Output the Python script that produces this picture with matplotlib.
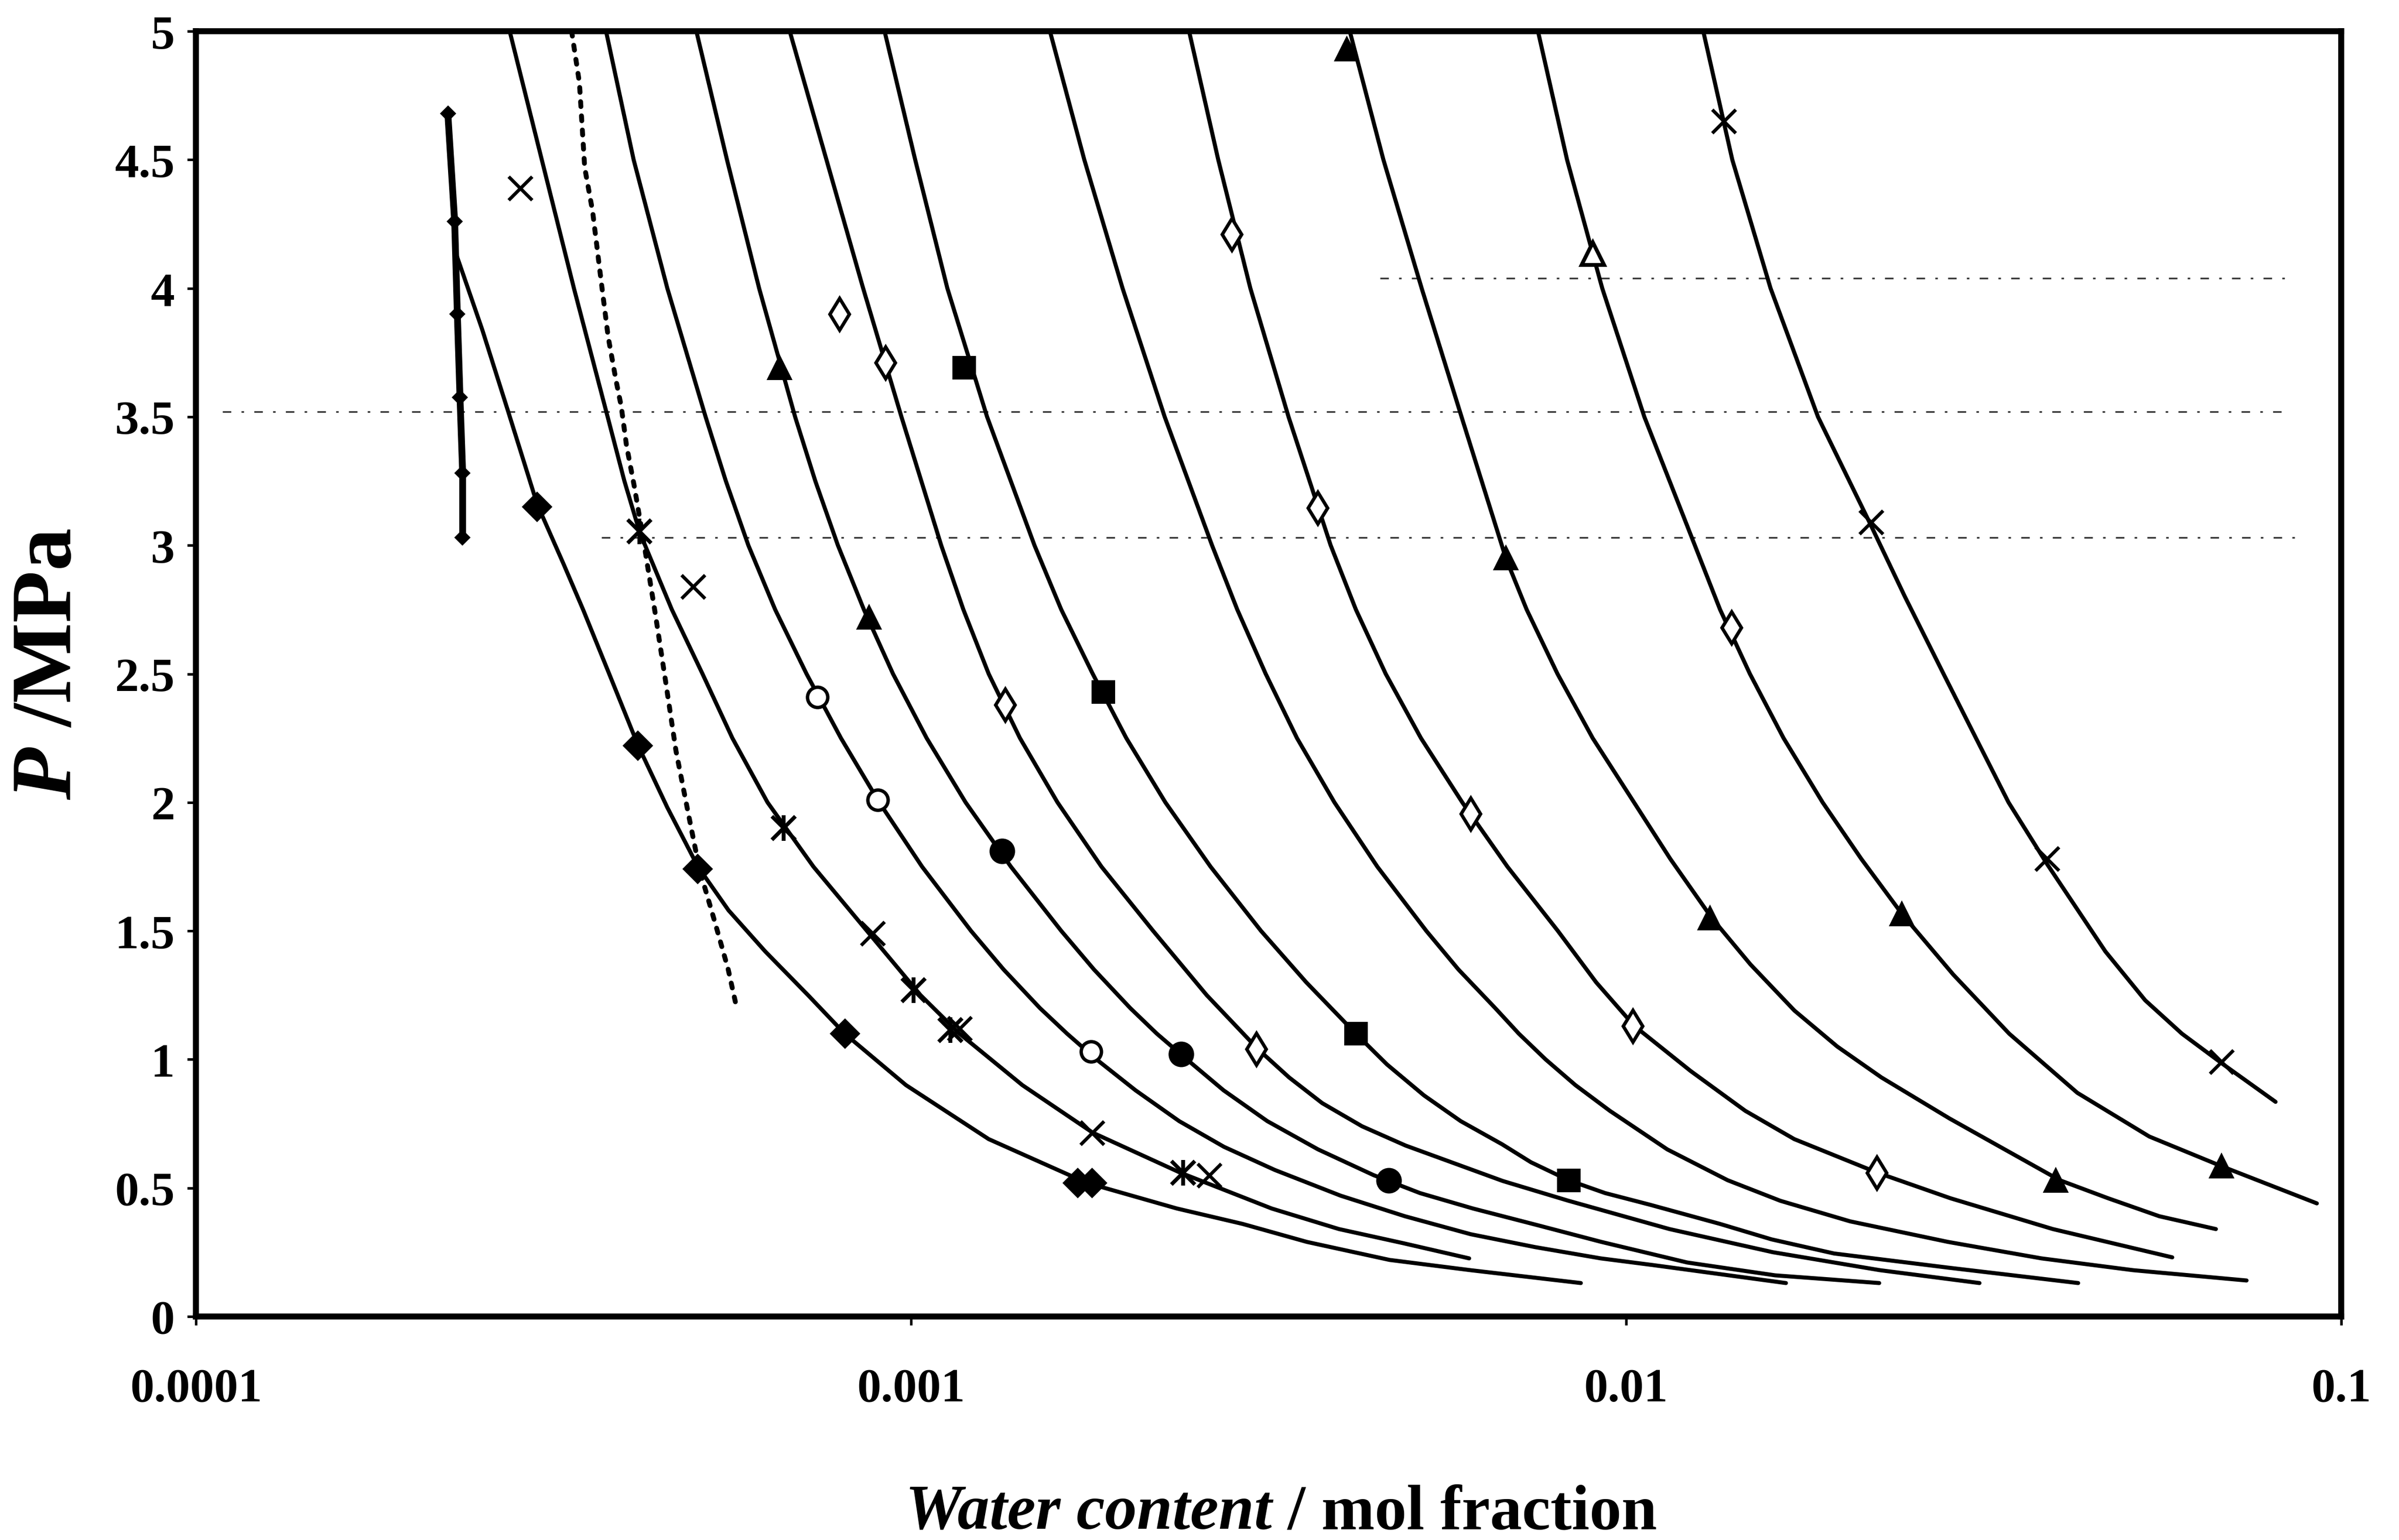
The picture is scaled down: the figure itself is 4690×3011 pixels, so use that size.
import matplotlib
matplotlib.use("Agg")
import matplotlib.pyplot as plt
from matplotlib.ticker import NullLocator

plt.rcParams['font.family'] = ['Liberation Serif', 'DejaVu Serif']

# ---------------- isotherm curves: water content (mol fraction) vs P (MPa) ----------------
c1_x = [2.30e-4, 2.513e-4, 2.733e-4, 3.000e-4, 3.263e-4, 3.478e-4, 3.783e-4, 4.154e-4, 4.562e-4, 5.034e-4,
        5.556e-4, 6.253e-4, 7.177e-4, 8.078e-4, 9.838e-4, 1.284e-3, 1.760e-3, 2.354e-3, 2.909e-3, 3.578e-3,
        4.668e-3, 6.062e-3, 8.643e-3]
c1_p = [4.15, 3.84, 3.52, 3.16, 2.93, 2.75, 2.50, 2.22, 1.98, 1.75,
        1.58, 1.42, 1.25, 1.10, 0.90, 0.69, 0.52, 0.42, 0.36, 0.29,
        0.22, 0.18, 0.13]

c2_x = [2.746e-4, 3.045e-4, 3.377e-4, 3.764e-4, 3.973e-4, 4.174e-4, 4.629e-4, 5.109e-4, 5.625e-4, 6.299e-4,
        7.302e-4, 8.676e-4, 1.031e-3, 1.169e-3, 1.431e-3, 1.795e-3, 2.377e-3, 3.194e-3, 3.967e-3, 4.880e-3,
        6.032e-3]
c2_p = [5.0, 4.5, 4.0, 3.5, 3.25, 3.05, 2.75, 2.5, 2.25, 2.0,
        1.75, 1.5, 1.25, 1.10, 0.90, 0.715, 0.56, 0.42, 0.34, 0.285,
        0.226]

c3_x = [3.745e-4, 4.093e-4, 4.562e-4, 5.160e-4, 5.508e-4, 5.922e-4, 6.456e-4, 7.142e-4, 7.979e-4, 9.026e-4,
        1.036e-3, 1.213e-3, 1.347e-3, 1.514e-3, 1.653e-3, 1.817e-3, 2.060e-3, 2.371e-3, 2.739e-3, 3.226e-3,
        3.987e-3, 4.904e-3, 6.062e-3, 7.455e-3, 9.214e-3, 1.090e-2, 1.673e-2]
c3_p = [5.0, 4.5, 4.0, 3.5, 3.25, 3.0, 2.75, 2.5, 2.25, 2.0,
        1.75, 1.5, 1.35, 1.2, 1.1, 1.0, 0.88, 0.76, 0.66, 0.57,
        0.47, 0.39, 0.32, 0.27, 0.226, 0.20, 0.13]

c4_x = [5.009e-4, 5.528e-4, 6.131e-4, 6.884e-4, 7.347e-4, 7.901e-4, 8.591e-4, 9.435e-4, 1.0515e-3, 1.192e-3,
        1.379e-3, 1.622e-3, 1.802e-3, 2.025e-3, 2.207e-3, 2.4305e-3, 2.735e-3, 3.149e-3, 3.708e-3, 4.433e-3,
        5.149e-3, 6.107e-3, 7.474e-3, 9.236e-3, 1.2172e-2, 1.616e-2, 2.259e-2]
c4_p = [5.0, 4.5, 4.0, 3.5, 3.25, 3.0, 2.75, 2.5, 2.25, 2.0,
        1.75, 1.5, 1.35, 1.2, 1.1, 1.0, 0.88, 0.76, 0.65, 0.55,
        0.48, 0.42, 0.357, 0.29, 0.21, 0.16, 0.13]

c5_x = [6.766e-4, 7.615e-4, 8.570e-4, 9.695e-4, 1.102e-3, 1.1835e-3, 1.284e-3, 1.420e-3, 1.6025e-3, 1.846e-3,
        2.1805e-3, 2.591e-3, 3.056e-3, 3.378e-3, 3.758e-3, 4.272e-3, 4.915e-3, 6.723e-3, 8.309e-3, 1.150e-2,
        1.604e-2, 2.265e-2, 3.120e-2]
c5_p = [5.0, 4.5, 4.0, 3.5, 3.0, 2.75, 2.5, 2.25, 2.0, 1.75,
        1.5, 1.25, 1.04, 0.93, 0.83, 0.74, 0.665, 0.527, 0.45, 0.34,
        0.25, 0.18, 0.13]

c6_x = [9.183e-4, 1.0134e-3, 1.124e-3, 1.2774e-3, 1.488e-3, 1.622e-3, 1.795e-3, 2.000e-3, 2.268e-3, 2.623e-3,
        3.086e-3, 3.570e-3, 4.189e-3, 4.632e-3, 5.216e-3, 5.870e-3, 6.706e-3, 7.360e-3, 8.309e-3, 9.347e-3,
        1.0788e-2, 1.3533e-2, 1.597e-2, 1.9536e-2, 2.820e-2, 4.287e-2]
c6_p = [5.0, 4.5, 4.0, 3.5, 3.0, 2.75, 2.5, 2.25, 2.0, 1.75,
        1.5, 1.3, 1.1, 0.98, 0.86, 0.76, 0.67, 0.60, 0.53, 0.48,
        0.435, 0.36, 0.30, 0.245, 0.19, 0.13]

c7_x = [1.564e-3, 1.747e-3, 1.976e-3, 2.263e-3, 2.636e-3, 2.859e-3, 3.133e-3, 3.465e-3, 3.909e-3, 4.488e-3,
        5.255e-3, 5.827e-3, 6.559e-3, 7.080e-3, 7.717e-3, 8.494e-3, 9.490e-3, 1.1417e-2, 1.3869e-2, 1.6432e-2,
        2.0574e-2, 2.820e-2, 3.809e-2, 5.119e-2, 7.373e-2]
c7_p = [5.0, 4.5, 4.0, 3.5, 3.0, 2.75, 2.5, 2.25, 2.0, 1.75,
        1.5, 1.35, 1.2, 1.1, 1.0, 0.9, 0.8, 0.65, 0.53, 0.45,
        0.37, 0.29, 0.226, 0.18, 0.14]

c8_x = [2.448e-3, 2.689e-3, 2.982e-3, 3.372e-3, 3.862e-3, 4.189e-3, 4.611e-3, 5.165e-3, 5.900e-3, 6.823e-3,
        8.027e-3, 9.080e-3, 1.027e-2, 1.2308e-2, 1.4678e-2, 1.7185e-2, 2.2427e-2, 2.841e-2, 3.952e-2, 5.804e-2]
c8_p = [5.0, 4.5, 4.0, 3.5, 3.0, 2.75, 2.5, 2.25, 2.0, 1.75,
        1.5, 1.3, 1.13, 0.955, 0.80, 0.69, 0.56, 0.46, 0.34, 0.23]

c9_x = [4.107e-3, 4.577e-3, 5.177e-3, 5.886e-3, 6.789e-3, 7.260e-3, 8.017e-3, 8.979e-3, 1.0257e-2, 1.153e-2,
        1.3178e-2, 1.4919e-2, 1.7195e-2, 1.974e-2, 2.275e-2, 2.834e-2, 3.334e-2, 4.041e-2, 4.720e-2, 5.566e-2,
        6.680e-2]
c9_p = [5.0, 4.5, 4.0, 3.5, 2.95, 2.75, 2.5, 2.25, 2.0, 1.78,
        1.55, 1.37, 1.19, 1.05, 0.93, 0.77, 0.66, 0.53, 0.46, 0.39,
        0.34]

c10_x = [7.529e-3, 8.268e-3, 9.260e-3, 1.0604e-2, 1.2477e-2, 1.3533e-2, 1.4897e-2, 1.6603e-2, 1.8827e-2,
         2.1326e-2, 2.4325e-2, 2.8677e-2, 3.434e-2, 4.276e-2, 5.391e-2, 6.796e-2, 9.246e-2]
c10_p = [5.0, 4.5, 4.0, 3.5, 3.0, 2.75, 2.5, 2.25, 2.0,
         1.78, 1.565, 1.33, 1.1, 0.87, 0.70, 0.585, 0.44]

c11_x = [1.282e-2, 1.4076e-2, 1.5922e-2, 1.8548e-2, 2.189e-2, 2.4542e-2, 2.779e-2, 3.085e-2, 3.426e-2,
         3.879e-2, 4.261e-2, 4.680e-2, 5.320e-2, 5.989e-2, 6.846e-2, 8.095e-2]
c11_p = [5.0, 4.5, 4.0, 3.5, 3.09, 2.8, 2.5, 2.25, 2.0,
         1.76, 1.59, 1.42, 1.23, 1.10, 0.98, 0.835]

# dotted boundary curve
dot_x = [3.352e-4, 3.437e-4, 3.496e-4, 3.586e-4, 3.678e-4, 3.771e-4, 3.868e-4, 3.933e-4, 3.999e-4, 4.101e-4,
         4.207e-4, 4.385e-4, 4.537e-4, 4.691e-4, 4.894e-4, 5.059e-4, 5.322e-4, 5.550e-4, 5.694e-4]
dot_p = [5.0, 4.80, 4.47, 4.30, 4.05, 3.81, 3.64, 3.54, 3.39, 3.23,
         3.05, 2.74, 2.47, 2.20, 1.94, 1.74, 1.53, 1.35, 1.21]

# near-vertical series with small diamonds
vline_x = [2.25e-4, 2.30e-4, 2.32e-4, 2.34e-4, 2.36e-4, 2.36e-4]
vline_p = [4.68, 4.26, 3.90, 3.575, 3.28, 3.03]

# faint horizontal reference lines
ref_p = [4.04, 3.52, 3.03]
ref_x0 = [4.53e-3, 1.09e-4, 3.69e-4]
ref_x1 = [8.38e-2, 8.38e-2, 8.89e-2]

# ---------------- experimental points ----------------
cross_x = [2.842e-4, 4.960e-4, 8.83e-4, 1.169e-3, 1.79e-3, 2.610e-3, 1.369e-2, 2.20e-2, 3.88e-2, 6.80e-2]
cross_p = [4.39, 2.84, 1.49, 1.12, 0.715, 0.55, 4.65, 3.09, 1.78, 0.99]

star_x = [4.17e-4, 6.63e-4, 1.008e-3, 1.135e-3, 2.400e-3]
star_p = [3.055, 1.90, 1.27, 1.115, 0.56]

fdiam_x = [3.00e-4, 4.15e-4, 5.03e-4, 8.08e-4, 1.71e-3, 1.79e-3]
fdiam_p = [3.15, 2.22, 1.74, 1.10, 0.52, 0.52]

ocirc_x = [7.40e-4, 8.98e-4, 1.786e-3]
ocirc_p = [2.41, 2.01, 1.03]

odiam_x = [7.944e-4, 9.204e-4, 1.354e-3, 3.04e-3, 2.810e-3, 3.703e-3, 6.062e-3, 1.022e-2, 2.243e-2, 1.405e-2]
odiam_p = [3.90, 3.71, 2.38, 1.04, 4.21, 3.145, 1.955, 1.13, 0.56, 2.68]

ftri_x = [6.55e-4, 8.73e-4, 4.067e-3, 6.789e-3, 1.31e-2, 3.99e-2, 2.43e-2, 6.80e-2]
ftri_p = [3.69, 2.72, 4.93, 2.95, 1.55, 0.53, 1.565, 0.585]

otri_x = [8.991e-3]
otri_p = [4.135]

fcirc_x = [1.34e-3, 2.386e-3, 4.657e-3]
fcirc_p = [1.81, 1.02, 0.53]

fsq_x = [1.186e-3, 1.858e-3, 4.189e-3, 8.309e-3]
fsq_p = [3.69, 2.43, 1.10, 0.53]

x_ticks = [1e-4, 1e-3, 1e-2, 1e-1]
x_tick_labels = ["0.0001", "0.001", "0.01", "0.1"]
y_ticks = [0, 0.5, 1, 1.5, 2, 2.5, 3, 3.5, 4, 4.5, 5]
y_tick_labels = ["0", "0.5", "1", "1.5", "2", "2.5", "3", "3.5", "4", "4.5", "5"]

# ---------------- figure ----------------
fig = plt.figure(figsize=(4690 / 300, 3012 / 300), dpi=300)
ax = fig.add_axes([0.0817, 0.1451, 0.8942, 0.8343])
ax.set_xscale('log')

curves = [(c1_x, c1_p), (c2_x, c2_p), (c3_x, c3_p), (c4_x, c4_p), (c5_x, c5_p), (c6_x, c6_p),
          (c7_x, c7_p), (c8_x, c8_p), (c9_x, c9_p), (c10_x, c10_p), (c11_x, c11_p)]
for cx, cp in curves:
    ax.plot(cx, cp, color='black', lw=1.9, solid_joinstyle='round', solid_capstyle='round', zorder=2)

ax.plot(dot_x, dot_p, color='black', lw=2.3, linestyle=(0, (1.0, 1.9)),
        dash_capstyle='round', zorder=2)

ax.plot(vline_x, vline_p, color='black', lw=3.2, zorder=2,
        marker='D', markersize=4.5, markerfacecolor='black', markeredgecolor='black')

for p, x0, x1 in zip(ref_p, ref_x0, ref_x1):
    ax.plot([x0, x1], [p, p], color='#3a3a3a', lw=0.8, linestyle=(0, (5, 6, 1.5, 6)), zorder=1)

mk = dict(linestyle='none', zorder=3, clip_on=False)
ax.plot(cross_x, cross_p, marker='x', markersize=11, markeredgewidth=1.6, color='black', **mk)
ax.plot(star_x, star_p, marker='x', markersize=11, markeredgewidth=1.8, color='black', **mk)
ax.plot(star_x, star_p, marker='|', markersize=12, markeredgewidth=1.8, color='black', **mk)
ax.plot(fdiam_x, fdiam_p, marker='D', markersize=9, markerfacecolor='black',
        markeredgecolor='black', **mk)
ax.plot(ocirc_x, ocirc_p, marker='o', markersize=9.5, markerfacecolor='white',
        markeredgecolor='black', markeredgewidth=1.6, **mk)
ax.plot(odiam_x, odiam_p, marker='d', markersize=10.5, markerfacecolor='white',
        markeredgecolor='black', markeredgewidth=1.6, **mk)
ax.plot(ftri_x, ftri_p, marker='^', markersize=10.5, markerfacecolor='black',
        markeredgecolor='black', **mk)
ax.plot(otri_x, otri_p, marker='^', markersize=10.5, markerfacecolor='white',
        markeredgecolor='black', markeredgewidth=1.8, **mk)
ax.plot(fcirc_x, fcirc_p, marker='o', markersize=11, markerfacecolor='black',
        markeredgecolor='black', **mk)
ax.plot(fsq_x, fsq_p, marker='s', markersize=10, markerfacecolor='black',
        markeredgecolor='black', **mk)

ax.set_xlim(1e-4, 0.1)
ax.set_ylim(0, 5)
ax.set_xticks(x_ticks, labels=x_tick_labels, fontsize=22.5, fontweight='bold')
ax.set_yticks(y_ticks, labels=y_tick_labels, fontsize=22.5, fontweight='bold')
ax.xaxis.set_minor_locator(NullLocator())
ax.tick_params(axis='x', direction='out', length=4, width=1.2, pad=20)
ax.tick_params(axis='y', direction='out', length=4, width=1.2, pad=6)
for s in ax.spines.values():
    s.set_linewidth(2.8)
    s.set_color('black')

# ---------------- axis titles with mixed styles ----------------
fig.canvas.draw()
renderer = fig.canvas.get_renderer()
W, H = fig.bbox.width, fig.bbox.height

xa = fig.text(0, 0.0075, "Water content", fontsize=30, fontweight='bold', fontstyle='italic',
              ha='left', va='baseline')
xb = fig.text(0, 0.0075, " / mol fraction", fontsize=30, fontweight='bold',
              ha='left', va='baseline')
wa = xa.get_window_extent(renderer).width / W
wb = xb.get_window_extent(renderer).width / W
x_start = 0.534 - (wa + wb) / 2
xa.set_x(x_start)
xb.set_x(x_start + wa)

ya = fig.text(0.021, 0, "P", fontsize=40, fontweight='bold', fontstyle='italic',
              rotation=90, ha='center', va='bottom')
yb = fig.text(0.021, 0, " /MPa", fontsize=40, fontweight='bold',
              rotation=90, ha='center', va='bottom')
ha_ = ya.get_window_extent(renderer).height / H
hb_ = yb.get_window_extent(renderer).height / H
y_start = 0.569 - (ha_ + hb_) / 2
ya.set_y(y_start)
yb.set_y(y_start + ha_)

fig.savefig("out.png", dpi=300, facecolor='white')
